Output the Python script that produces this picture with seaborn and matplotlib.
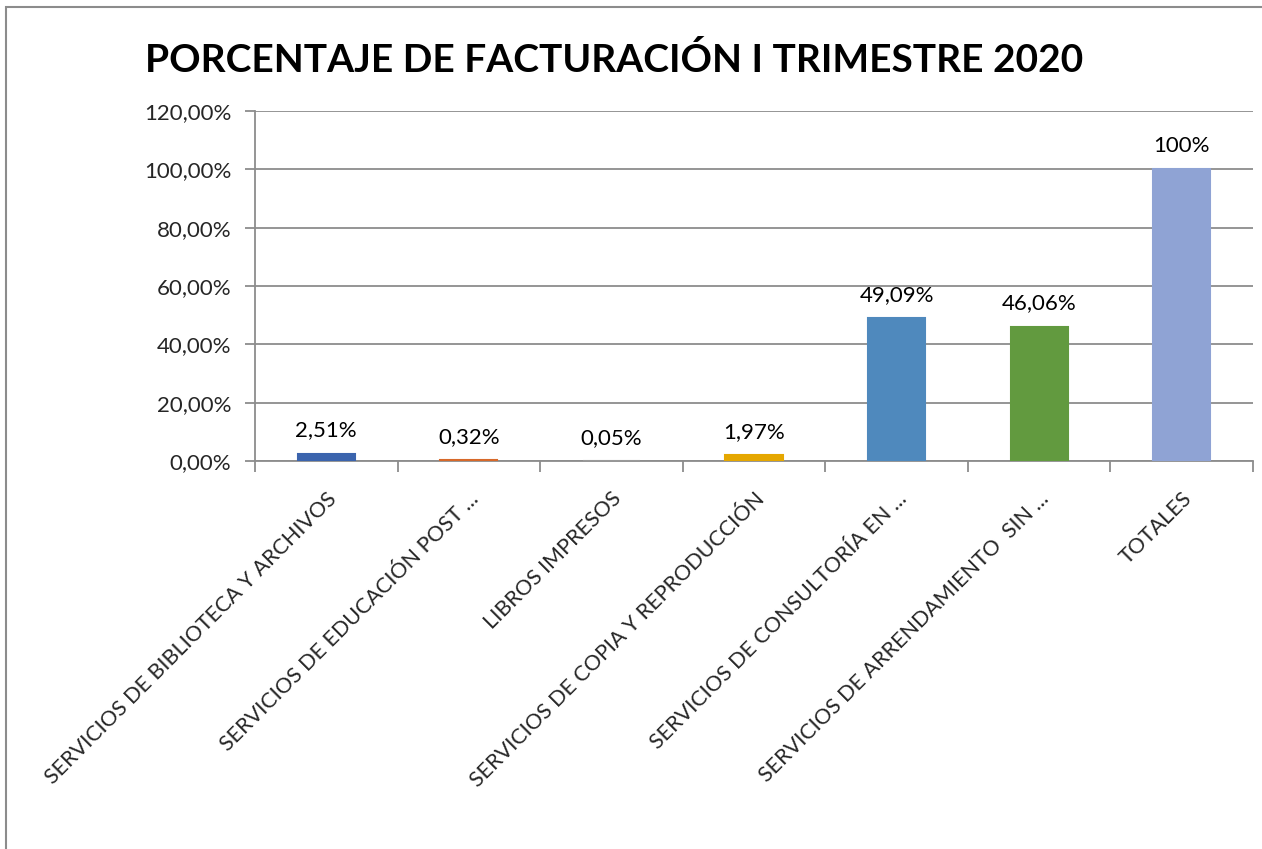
import matplotlib
matplotlib.use("Agg")
import matplotlib.pyplot as plt
import seaborn as sns
import pandas as pd
from matplotlib.patches import Rectangle
from matplotlib.ticker import FuncFormatter, MultipleLocator, FixedLocator

categorias = ["SERVICIOS DE BIBLIOTECA Y ARCHIVOS",
              "SERVICIOS DE EDUCACIÓN POST ...",
              "LIBROS IMPRESOS",
              "SERVICIOS DE COPIA Y REPRODUCCIÓN",
              "SERVICIOS DE CONSULTORÍA EN ...",
              "SERVICIOS DE ARRENDAMIENTO  SIN ...",
              "TOTALES"]
porcentajes = [2.51, 0.32, 0.05, 1.97, 49.09, 46.06, 100.0]
etiquetas = ["2,51%", "0,32%", "0,05%", "1,97%", "49,09%", "46,06%", "100%"]
colores = ["#3B64AD", "#D7692A", "#999999", "#E5A700", "#4F89BD", "#629A3F", "#8FA3D4"]

df = pd.DataFrame({"cat": categorias, "pct": porcentajes})

sns.set_style("white")
plt.rcParams['font.family'] = ['Lato', 'DejaVu Sans']

fig = plt.figure(figsize=(12.62, 8.49), dpi=100)
ax = fig.add_axes([255/1262, 1-461/849, 998/1262, 350/849])

sns.barplot(data=df, x="cat", y="pct", hue="cat", palette=colores, legend=False,
            width=0.4, ax=ax, saturation=1)
# minimo visible para barras muy pequeñas, como en Excel
for bar, c in zip(ax.patches, colores):
    bar.set_edgecolor(c)
    bar.set_linewidth(1.5)
    bar.set_zorder(3)

for i, (v, t) in enumerate(zip(porcentajes, etiquetas)):
    ax.text(i, v + 4.5, t, ha="center", va="bottom", fontsize=16, color="black")

ax.set_ylim(0, 120)
ax.set_xlim(-0.5, 6.5)
ax.yaxis.set_major_locator(MultipleLocator(20))
ax.yaxis.set_major_formatter(FuncFormatter(lambda v, p: f"{v:.2f}".replace(".", ",") + "%"))
ax.grid(axis="y", color="#8c8c8c", linewidth=1.3)
ax.set_axisbelow(True)
for s in ["top", "right"]:
    ax.spines[s].set_visible(False)
for s in ["left", "bottom"]:
    ax.spines[s].set_color("#8c8c8c")
    ax.spines[s].set_linewidth(1.3)

ax.tick_params(axis="y", length=7, width=1.3, color="#8c8c8c", labelsize=16, pad=10, left=True)
ax.tick_params(axis="x", which="major", length=0, labelsize=15.5, pad=20)
ax.xaxis.set_minor_locator(FixedLocator([i - 0.5 for i in range(8)]))
ax.tick_params(axis="x", which="minor", length=8, width=1.3, color="#8c8c8c", bottom=True)
ax.set_xlabel("")
ax.set_ylabel("")
plt.setp(ax.get_xticklabels(), rotation=45, ha="right", va="top", rotation_mode="anchor")

fig.text(0.487, 0.929, "PORCENTAJE DE FACTURACIÓN I TRIMESTRE 2020", ha="center", va="center",
         fontsize=28, fontweight="bold", color="black")

fig.patches.append(Rectangle((6/1262, -0.1), 1.2, 1 - 7/849 + 0.1, transform=fig.transFigure,
                             fill=False, edgecolor="#8c8c8c", linewidth=1.5))

fig.savefig("out.png", dpi=100)
